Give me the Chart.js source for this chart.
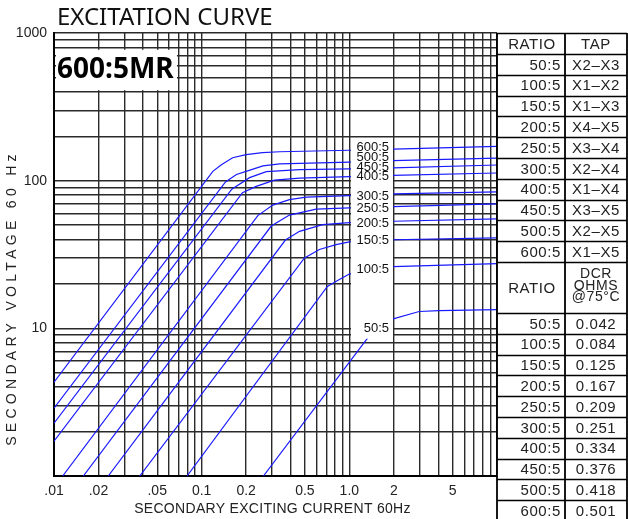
<!DOCTYPE html>
<html><head><meta charset="utf-8">
<script src="https://cdn.jsdelivr.net/npm/chart.js@4.4.0/dist/chart.umd.min.js"></script>
<style>html,body{margin:0;padding:0;background:#fff;}canvas{display:block;}</style>
</head><body>
<canvas id="c" width="628" height="519"></canvas>
<script>
// ---------- data ----------
const ratios = ['50:5','100:5','150:5','200:5','250:5','300:5','400:5','450:5','500:5','600:5'];
const taps   = ['X2–X3','X1–X2','X1–X3','X4–X5','X3–X4','X2–X4','X1–X4','X3–X5','X2–X5','X1–X5'];
const dcrOhms = ['0.042','0.084','0.125','0.167','0.209','0.251','0.334','0.376','0.418','0.501'];

// [secondary exciting current (A), secondary voltage (V)]
const curve50  = [[0.262,1],[1.263,8.04],[1.6,10.9],[1.98,11.6],[2.97,13.0],[4.06,13.2],[10,13.4]];
const curve100 = [[0.0796,1],[0.71,19.2],[0.856,21.4],[1,23.3],[1.98,26.2],[10,27.4]];
const curve150 = [[0.0381,1],[0.497,30.0],[0.627,34.2],[0.813,36.9],[1,38.5],[1.98,39.8],[10,41.0]];
const curve200 = [[0.0233,1],[0.369,39.6],[0.46,45.4],[0.66,50.4],[1,52.0],[1.98,53.1],[10,55.1]];
const curve250 = [[0.0158,1],[0.296,49.3],[0.393,58.5],[0.596,64.2],[1,65.4],[1.98,66.7],[10,69.6]];
const curve300 = [[0.01145,1],[0.24,58.0],[0.303,68.3],[0.393,74.4],[0.51,77.3],[1,79.2],[1.98,81.3],[10,83.9]];
const curve400 = [[0.01,1.72],[0.189,83.0],[0.234,91.5],[0.311,100.8],[0.46,104.0],[1,106.4],[1.98,108.6],[10,112.7]];
const curve450 = [[0.01,2.28],[0.16,87.6],[0.211,104.8],[0.274,115.0],[0.46,118.7],[1,120.0],[1.98,121.9],[10,127.7]];
const curve500 = [[0.01,2.88],[0.145,98.0],[0.172,110.0],[0.2,115.6],[0.26,126.0],[0.337,130.0],[1,133.4],[1.98,136.5],[10,142.3]];
const curve600 = [[0.01,4.32],[0.119,115.6],[0.136,128.0],[0.162,143.0],[0.2,150.0],[0.258,155.0],[0.337,157.0],[1,160.7],[1.98,163.7],[10,170.6]];

// voltage level where each curve's ratio label sits (same order as ratios)
const curveLabelV = [10, 25, 39.6, 51.2, 64.7, 78.6, 106.4, 123.4, 143, 167];

const xTickValues = [0.01,0.02,0.05,0.1,0.2,0.5,1,2,5];
const xTickText   = ['.01','.02','.05','0.1','0.2','0.5','1.0','2','5'];
const yTickValues = [10,100,1000];
const yTickText   = ['10','100','1000'];

const curves = [curve50,curve100,curve150,curve200,curve250,curve300,curve400,curve450,curve500,curve600];

// ---------- helpers ----------
function logGrid(from, to){
  const out=[];
  for(let d=from; d<to*0.999; d*=10){
    for(let m=1;m<=9;m++) out.push(+(m*d).toPrecision(3));
  }
  out.push(to);
  return out;
}
function labelFor(v, vals, txt){
  for(let i=0;i<vals.length;i++){ if(Math.abs(v-vals[i])/vals[i] < 1e-6) return txt[i]; }
  return '';
}
const FONT = "'Liberation Sans', Arial, sans-serif";
Chart.defaults.font.family = FONT;

const overlay = {
  id:'overlay',
  afterDatasetsDraw(chart){
    const {ctx, chartArea:a, scales:{x,y}} = chart;
    const al = p => Math.round(p-0.5);
    ctx.save();
    // white label column between the 1.0 and 2 grid lines
    const cx0 = al(x.getPixelForValue(1))+2, cx1 = al(x.getPixelForValue(2));
    const cy0 = al(y.getPixelForValue(200))+2, cy1 = y.getPixelForValue(8.5);
    ctx.fillStyle='#fff';
    ctx.fillRect(cx0, cy0, cx1-cx0, cy1-cy0);
    ctx.fillStyle='#111';
    ctx.font = "13px " + FONT;
    ctx.textAlign='right'; ctx.textBaseline='middle';
    ratios.forEach((r,i)=>{ ctx.fillText(r, cx1-4, y.getPixelForValue(curveLabelV[i])); });

    // 600:5MR box
    const bx0 = a.left+2, bx1 = x.getPixelForValue(0.068);
    const by0 = y.getPixelForValue(770), by1 = y.getPixelForValue(410);
    ctx.fillStyle='#fff';
    ctx.fillRect(bx0, by0, bx1-bx0, by1-by0);
    ctx.fillStyle='#000';
    ctx.font = "bold 28px 'Noto Sans', " + FONT;
    ctx.textAlign='left'; ctx.textBaseline='alphabetic';
    ctx.fillText('600:5MR', a.left+3, by0+28);
    ctx.restore();
  },
  afterDraw(chart){
    const {ctx, chartArea:a} = chart;
    ctx.save();
    // title
    ctx.fillStyle='#111';
    ctx.font = "24px 'Noto Sans', " + FONT;
    ctx.textAlign='left'; ctx.textBaseline='alphabetic';
    ctx.fillText('EXCITATION CURVE', a.left+3, 25);

    // axis titles
    ctx.fillStyle='#222';
    ctx.font = "14px " + FONT;
    ctx.textAlign='center'; ctx.textBaseline='middle';
    ctx.letterSpacing = '0.3px';
    ctx.fillText('SECONDARY EXCITING CURRENT 60Hz', (a.left+a.right)/2 - 3, 509);
    ctx.save();
    ctx.translate(12, 298);
    ctx.rotate(-Math.PI/2);
    ctx.letterSpacing = '4.3px';
    ctx.fillText('SECONDARY VOLTAGE 60 Hz', 0, 0);
    ctx.restore();

    // table
    const L = a.right, R = 627, M = 565;
    const top = a.top, h1 = 21, rowH = 20.8, h2 = 51;
    const ys = [top, top+h1];
    for(let i=1;i<=ratios.length;i++) ys.push(top+h1+rowH*i);
    const sec2 = ys[ys.length-1];
    ys.push(sec2+h2);
    const rowsStart2 = sec2+h2;
    for(let i=1;i<=ratios.length;i++) ys.push(rowsStart2+rowH*i);
    ctx.fillStyle='#fff';
    ctx.fillRect(L+1, top, R-L, 519-top);
    ctx.strokeStyle='#000';
    ctx.lineWidth=1.4;
    ys.forEach(yy=>{ const yr=Math.round(yy)+0.5; ctx.beginPath(); ctx.moveTo(L, yr); ctx.lineTo(R, yr); ctx.stroke(); });
    ctx.lineWidth=1.8;
    [L, M, R].forEach(xx=>{ ctx.beginPath(); ctx.moveTo(xx, top); ctx.lineTo(xx, 519); ctx.stroke(); });

    ctx.fillStyle='#222';
    ctx.font = "15px " + FONT;
    ctx.letterSpacing = '0.6px';
    ctx.textBaseline='middle';
    ctx.textAlign='center';
    ctx.fillText('RATIO', (L+M)/2+1, top+h1/2+1);
    ctx.fillText('TAP', (M+R)/2, top+h1/2+1);
    ratios.forEach((r,i)=>{
      const cy = top+h1+rowH*(i+0.5)+1;
      ctx.textAlign='right'; ctx.fillText(r, M-4, cy);
      ctx.textAlign='center'; ctx.fillText(taps[i], (M+R)/2, cy);
    });
    ctx.textAlign='center';
    ctx.fillText('RATIO', (L+M)/2+1, sec2+h2/2+1);
    ctx.font = "14px " + FONT;
    ctx.fillText('DCR', (M+R)/2, sec2+12);
    ctx.fillText('OHMS', (M+R)/2, sec2+24);
    ctx.fillText('@75°C', (M+R)/2, sec2+35.5);
    ctx.font = "15px " + FONT;
    ratios.forEach((r,i)=>{
      const cy = rowsStart2+rowH*(i+0.5)+1;
      ctx.textAlign='right'; ctx.fillText(r, M-4, cy);
      ctx.textAlign='center'; ctx.fillText(dcrOhms[i], (M+R)/2, cy);
    });
    ctx.restore();
  }
};

new Chart(document.getElementById('c'), {
  type:'scatter',
  data:{
    datasets: curves.map((c,i)=>({
      label: ratios[i],
      data: c.map(p=>({x:p[0], y:p[1]})),
      showLine:true,
      borderColor:'#1a1aff',
      backgroundColor:'#1a1aff',
      borderWidth:1.2,
      pointRadius:0,
      tension:0,
      fill:false
    }))
  },
  options:{
    responsive:false,
    animation:false,
    layout:{padding:{top:33,right:131,left:0,bottom:0}},
    plugins:{legend:{display:false}, tooltip:{enabled:false}, title:{display:false}},
    scales:{
      x:{
        type:'logarithmic', min:0.01, max:10,
        afterBuildTicks: s => { s.ticks = logGrid(0.01,10).map(v=>({value:v})); },
        afterFit: s => { s.height = 43; },
        grid:{color:'#2a2a2a', lineWidth:1.4, drawTicks:false},
        border:{display:true, color:'#000', width:2},
        ticks:{autoSkip:false, maxRotation:0, minRotation:0, padding:7, color:'#222', font:{size:14},
          callback: v => labelFor(v, xTickValues, xTickText)}
      },
      y:{
        type:'logarithmic', min:1, max:1000,
        afterBuildTicks: s => { s.ticks = logGrid(1,1000).map(v=>({value:v})); },
        afterFit: s => { s.width = 54; },
        grid:{color:'#2a2a2a', lineWidth:1.4, drawTicks:false},
        border:{display:true, color:'#000', width:2},
        ticks:{autoSkip:false, padding:7, color:'#222', font:{size:14},
          callback: v => labelFor(v, yTickValues, yTickText)}
      }
    }
  },
  plugins:[overlay]
});
</script>
</body></html>
